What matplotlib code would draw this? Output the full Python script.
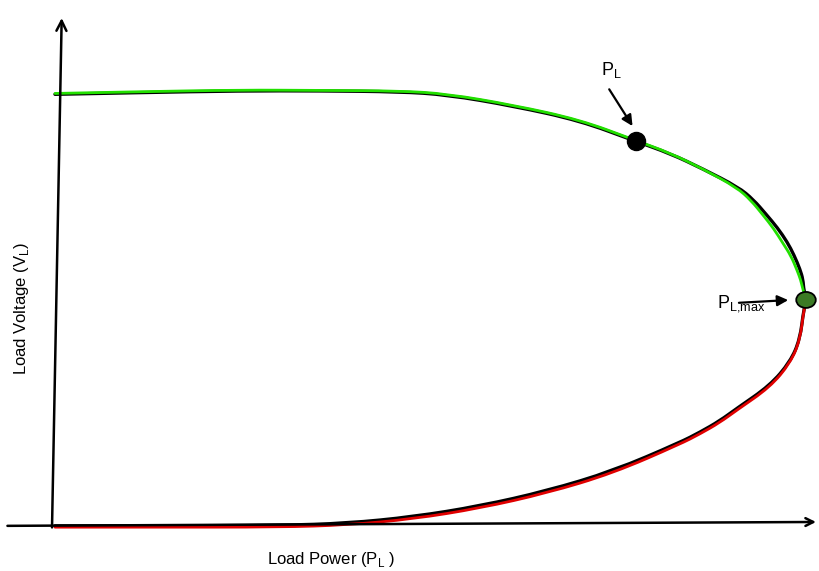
import numpy as np
import matplotlib
matplotlib.use("Agg")
import matplotlib.pyplot as plt
from matplotlib.patches import Ellipse, PathPatch
from matplotlib.path import Path

plt.rcParams['font.family'] = ['Liberation Sans', 'DejaVu Sans']

# nose curve, P and V normalised (P_max = 1)
# upper (stable) branch, green
p_up = [0.0, 0.113, 0.246, 0.353, 0.459, 0.522, 0.610, 0.699, 0.772, 0.819, 0.863,
        0.908, 0.927, 0.943, 0.957, 0.969, 0.980, 0.988, 0.993, 0.996, 1.0]
v_up = [0.999, 1.003, 1.007, 1.006, 1.005, 0.998, 0.972, 0.938, 0.891, 0.861, 0.824,
        0.781, 0.751, 0.717, 0.686, 0.653, 0.623, 0.590, 0.567, 0.544, 0.521]
# black curve under it (sits a bit to the right near the nose)
p_up_k = [0.0, 0.113, 0.246, 0.353, 0.459, 0.522, 0.610, 0.699, 0.772, 0.819, 0.863,
          0.910, 0.930, 0.947, 0.962, 0.975, 0.984, 0.992, 0.996, 0.997, 1.0]
v_up_k = [0.997, 1.001, 1.005, 1.005, 1.003, 0.996, 0.970, 0.936, 0.889, 0.860, 0.824,
          0.782, 0.753, 0.719, 0.688, 0.655, 0.625, 0.592, 0.568, 0.544, 0.521]

# lower (unstable) branch, red
p_lo = [1.0, 0.997, 0.992, 0.979, 0.952, 0.908, 0.885, 0.859, 0.832, 0.743, 0.655,
        0.566, 0.477, 0.389, 0.300, 0.126, 0.0]
v_lo = [0.521, 0.498, 0.428, 0.375, 0.319, 0.266, 0.237, 0.211, 0.187, 0.120, 0.074,
        0.039, 0.014, 0.0, -0.005, -0.005, -0.005]
v_lo_k = [0.521, 0.500, 0.430, 0.378, 0.323, 0.270, 0.241, 0.215, 0.191, 0.125, 0.079,
          0.044, 0.019, 0.004, -0.001, -0.002, -0.002]

p_op, v_op = 0.773, 0.889      # operating point P_L
p_max, v_crit = 1.0, 0.521     # nose point


def smooth(ax, xs, ys, **kw):
    # quadratic bezier through the midpoints, read points act as control points
    pts = np.column_stack([xs, ys])
    verts = [pts[0]]
    codes = [Path.MOVETO]
    for i in range(1, len(pts) - 1):
        mid = (pts[i] + pts[i + 1]) / 2 if i < len(pts) - 2 else pts[i + 1]
        verts += [pts[i], mid]
        codes += [Path.CURVE3, Path.CURVE3]
    ax.add_patch(PathPatch(Path(verts, codes), fill=False, capstyle='round',
                           joinstyle='round', **kw))


fig = plt.figure(figsize=(8.19, 5.71), dpi=100)
ax = fig.add_axes([0, 0, 1, 1])
ax.set_xlim(-0.0732, 1.0173)
ax.set_ylim(-0.1065, 1.2153)
ax.axis('off')

# axes with open arrow heads
ax.annotate('', xy=(0.009, 1.180), xytext=(-0.004, -0.012),
            arrowprops=dict(arrowstyle='->', lw=1.8, color='black', mutation_scale=18))
ax.annotate('', xy=(1.017, 0.007), xytext=(-0.067, -0.002),
            arrowprops=dict(arrowstyle='->', lw=1.8, color='black', mutation_scale=14))

smooth(ax, p_up_k, v_up_k, edgecolor='black', lw=2.4)
smooth(ax, p_lo, v_lo_k, edgecolor='black', lw=2.4)
smooth(ax, p_up, v_up, edgecolor='#22e000', lw=2.0)
smooth(ax, p_lo, v_lo, edgecolor='#e00000', lw=2.0)

ax.plot([p_op], [v_op], 'o', color='black', ms=13, zorder=5)
ax.add_patch(Ellipse((p_max, v_crit), 0.026, 0.037, facecolor='#3c7a25',
                     edgecolor='black', lw=1.3, zorder=5))

ax.annotate('', xy=(0.771, 0.918), xytext=(0.736, 1.014),
            arrowprops=dict(arrowstyle='-|>', lw=1.6, color='black', mutation_scale=16))
ax.text(0.727, 1.042, r'P$_\mathregular{L}$', fontsize=13, ha='left', va='baseline')

ax.annotate('', xy=(0.980, 0.521), xytext=(0.907, 0.514),
            arrowprops=dict(arrowstyle='-|>', lw=1.6, color='black', mutation_scale=16))
ax.text(0.881, 0.503, r'P$_\mathregular{L{,}max}$', fontsize=13, ha='left', va='baseline')

ax.text(-0.044, 0.502, r'Load Voltage (V$_\mathregular{L}$)', fontsize=12,
        rotation=90, ha='center', va='center')
ax.text(0.368, -0.081, r'Load Power (P$_\mathregular{L}$ )', fontsize=12,
        ha='center', va='center')

fig.savefig('out.png', dpi=100)
